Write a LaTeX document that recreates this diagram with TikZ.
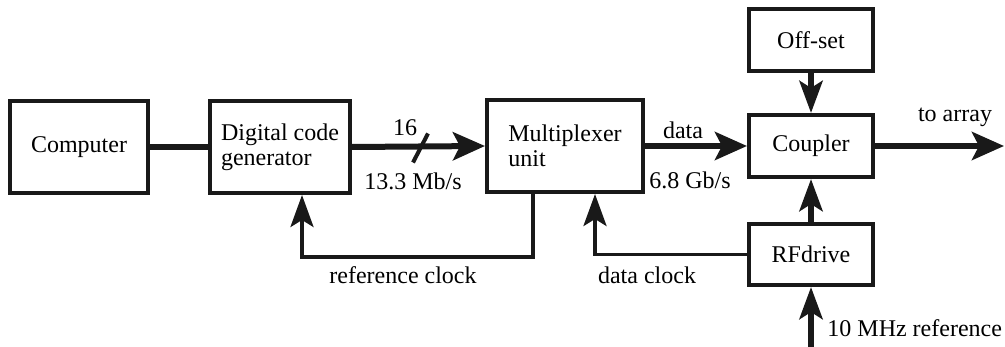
\documentclass[tikz,border=0pt]{standalone}
\usepackage{fontspec}
\setmainfont{Liberation Serif}
\usetikzlibrary{arrows.meta,calc}
\begin{document}
\begin{tikzpicture}[x=0.5pt,y=-0.5pt,
  font=\fontsize{12pt}{12.5pt}\selectfont,
  box/.style={draw=black!90,line width=2pt,rectangle,inner sep=0pt,align=left},
  main/.style={draw=black!90,line width=3pt},
  fb/.style={draw=black!90,line width=1.8pt},
  bigtip/.style={-{Stealth[length=16pt,width=14pt,inset=3.5pt]}},
  smalltip/.style={-{Stealth[length=16pt,width=11.5pt,inset=3.5pt]}},
  lbl/.style={inner sep=0pt}]
\useasboundingbox (0,0) rectangle (1005,347);
\node[box,minimum width=69pt,minimum height=46pt] (comp) at (79,147) {Computer};
\node[box,minimum width=70pt,minimum height=46pt] (dcg) at (280,147) {Digital code\\generator};
\node[box,minimum width=78pt,minimum height=46pt] (mux) at (565,146) {Multiplexer\\unit};
\node[box,minimum width=62pt,minimum height=31pt] (coup) at (811,146) {Coupler};
\node[box,minimum width=62pt,minimum height=31pt] (off) at (811,40) {Off-set};
\node[box,minimum width=62pt,minimum height=30.5pt] (rf) at (811,254.5) {RFdrive};
\coordinate (out) at (1004,146);
\coordinate (in) at (811,347);
\coordinate (sl) at (420.5,147.5);
% main connectors
\draw[main] (comp.east) -- (dcg.west);
\draw[main,bigtip] (dcg.east) -- (mux.west);
\draw[line width=2pt,draw=black!90] ($(sl)+(-7.5,15)$) -- ($(sl)+(7.5,-14)$);
\draw[main,bigtip] (mux.east) -- (coup.west);
\draw[main,bigtip] (coup.east) -- (out);
\draw[main,smalltip] (off.south) -- (coup.north);
\draw[main,smalltip] (rf.north) -- (coup.south);
\draw[main,smalltip] (in) -- (rf.south);
% feedback
\draw[fb,smalltip] ([xshift=-16pt]mux.south) |- ([xshift=11pt,yshift=-31pt]dcg.south) -- ([xshift=11pt]dcg.south);
\draw[fb,smalltip] (rf.west) -| ([xshift=15pt]mux.south);
% labels
\node[lbl] (l16) at (405,128) {16};
\node[lbl] (lmb) at (413,181) {13.3 Mb/s};
\node[lbl] (ldata) at (683,130) {data};
\node[lbl] (lgb) at (690,180) {6.8 Gb/s};
\node[lbl] (larr) at (955,117) {to array};
\node[lbl,anchor=west] (lten) at (827,328) {10 MHz reference};
\node[lbl] (lref) at (403,275) {reference clock};
\node[lbl] (ldc) at (647,275) {data clock};
\end{tikzpicture}
\end{document}
